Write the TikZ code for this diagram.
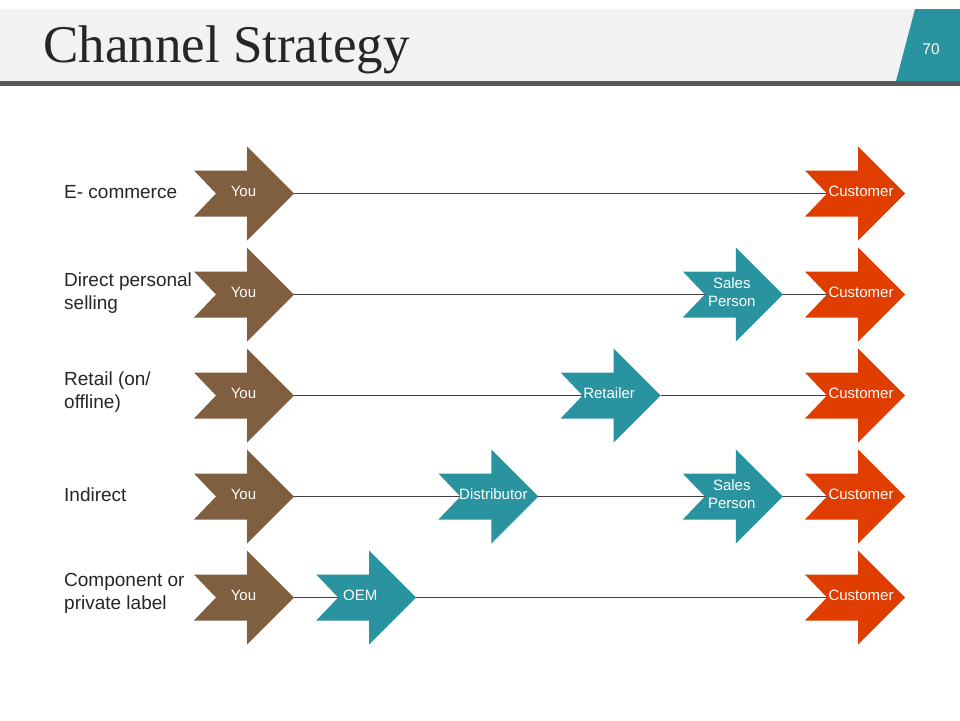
\documentclass[tikz,border=0pt]{standalone}
\usepackage{fontspec}
\setmainfont{Liberation Sans}
\newfontfamily\titlefont{Liberation Serif}
\definecolor{hdrgray}{RGB}{242,242,242}
\definecolor{barclr}{RGB}{89,89,89}
\definecolor{tealc}{RGB}{42,147,160}
\definecolor{brownc}{RGB}{127,95,63}
\definecolor{orangec}{RGB}{224,61,0}
\definecolor{linec}{RGB}{64,64,64}
\definecolor{txtc}{RGB}{38,38,38}
% #1 name, #2 left x, #3 centre y, #4 colour, #5 text x offset, #6 text
\newcommand\chev[6]{%
  \fill[#4] (#2,#3-23) -- (#2+53,#3-23) -- (#2+53,#3-47) -- (#2+100,#3)
    -- (#2+53,#3+47) -- (#2+53,#3+23) -- (#2,#3+23) -- (#2+22,#3) -- cycle;
  \coordinate (#1-notch) at (#2+22,#3);
  \coordinate (#1-tip) at (#2+100,#3);
  \node[chevtext] (#1) at (#2+#5,#3-2) {#6};
}
\begin{document}
\begin{tikzpicture}[x=1pt,y=-1pt,
  chevtext/.style={text=white,font=\fontsize{15}{18}\selectfont,align=center,inner sep=0pt},
  rowlabel/.style={anchor=west,text=txtc,font=\fontsize{19}{23}\selectfont,align=left,inner sep=0pt},
  conn/.style={draw=linec,line width=0.8pt}]
\useasboundingbox (0,0) rectangle (960,720);
\fill[white] (0,0) rectangle (960,720);
% header
\fill[hdrgray] (0,9) rectangle (920,81);
\fill[barclr] (0,81) rectangle (960,86);
\fill[tealc] (915,9) -- (960,9) -- (960,81) -- (896,81) -- cycle;
\node[anchor=base west,inner sep=0pt,text=black!85,font=\titlefont\fontsize{53}{60}\selectfont] (title) at (43,62) {Channel Strategy};
\node[text=white,font=\fontsize{15.5}{17}\selectfont,inner sep=0pt] (pagenum) at (931,49) {70};
% row labels
\node[rowlabel] (l1) at (64,192) {E- commerce};
\node[rowlabel] (l2) at (64,293) {Direct personal\\selling};
\node[rowlabel] (l3) at (64,392.5) {Retail (on/\\offline)};
\node[rowlabel] (l4) at (64,495) {Indirect};
\node[rowlabel] (l5) at (64,593.5) {Component or\\private label};
% row 1
\chev{y1}{194}{193.5}{brownc}{49.5}{You}
\chev{c1}{805}{193.5}{orangec}{56}{Customer}
\draw[conn] (y1-tip) -- (c1-notch);
% row 2
\chev{y2}{194}{294.5}{brownc}{49.5}{You}
\chev{s2}{682.8}{294.5}{tealc}{49}{Sales\\Person}
\chev{c2}{805}{294.5}{orangec}{56}{Customer}
\draw[conn] (y2-tip) -- (s2-notch);
\draw[conn] (s2-tip) -- (c2-notch);
% row 3
\chev{y3}{194}{395.5}{brownc}{49.5}{You}
\chev{r3}{560.6}{395.5}{tealc}{48.5}{Retailer}
\chev{c3}{805}{395.5}{orangec}{56}{Customer}
\draw[conn] (y3-tip) -- (r3-notch);
\draw[conn] (r3-tip) -- (c3-notch);
% row 4
\chev{y4}{194}{496.5}{brownc}{49.5}{You}
\chev{d4}{438.4}{496.5}{tealc}{55}{Distributor}
\chev{s4}{682.8}{496.5}{tealc}{49}{Sales\\Person}
\chev{c4}{805}{496.5}{orangec}{56}{Customer}
\draw[conn] (y4-tip) -- (d4-notch);
\draw[conn] (d4-tip) -- (s4-notch);
\draw[conn] (s4-tip) -- (c4-notch);
% row 5
\chev{y5}{194}{597.5}{brownc}{49.5}{You}
\chev{o5}{316.2}{597.5}{tealc}{44}{OEM}
\chev{c5}{805}{597.5}{orangec}{56}{Customer}
\draw[conn] (y5-tip) -- (o5-notch);
\draw[conn] (o5-tip) -- (c5-notch);
\end{tikzpicture}
\end{document}
